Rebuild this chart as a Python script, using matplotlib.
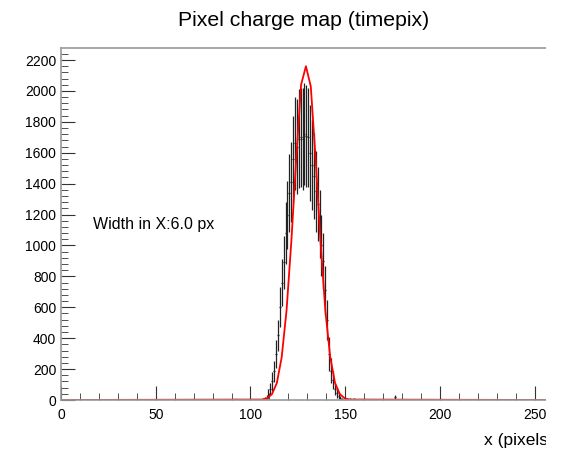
import matplotlib
matplotlib.use("Agg")
import matplotlib.pyplot as plt
from matplotlib.ticker import MultipleLocator
from matplotlib.patches import Rectangle

plt.rcParams['font.family'] = ['Liberation Sans', 'DejaVu Sans']

# bin centres (1 px bins), contents and errors
bin_x = [92.5, 106.5, 107.5, 108.5, 109.5, 110.5, 111.5, 112.5, 113.5, 114.5,
         115.5, 116.5, 117.5, 118.5, 119.5, 120.5, 121.5, 122.5, 123.5, 124.5,
         125.5, 126.5, 127.5, 128.5, 129.5, 130.5, 131.5, 132.5, 133.5, 134.5,
         135.5, 136.5, 137.5, 138.5, 139.5, 140.5, 141.5, 142.5, 143.5, 144.5,
         145.5, 146.5, 147.5, 148.5, 150.5, 152.5, 154.5, 176.5]
bin_y = [4, 5, 10, 15, 40, 70, 120, 185, 300, 420,
         600, 760, 890, 1080, 1200, 1340, 1410, 1560, 1660, 1640,
         1690, 1700, 1690, 1720, 1710, 1700, 1600, 1520, 1450, 1350,
         1270, 1140, 1000, 900, 710, 520, 300, 190, 130, 70,
         45, 25, 13, 8, 5, 5, 8, 20]
bin_err = [4, 5, 10, 15, 30, 40, 60, 70, 90, 100,
           130, 150, 170, 200, 220, 250, 260, 280, 300, 310,
           320, 320, 330, 330, 330, 320, 310, 290, 280, 260,
           240, 220, 200, 180, 160, 130, 110, 80, 60, 40,
           30, 20, 12, 8, 5, 5, 8, 15]

# fitted curve as drawn (polyline)
fit_x = [0, 106.24, 108.8, 111.36, 113.92, 116.48, 119.04, 121.6, 124.16, 126.72,
         129.28, 131.84, 134.4, 136.96, 139.52, 142.08, 144.64, 147.2, 149.76,
         152.32, 256]
fit_y = [0, 3, 11, 38, 110, 276, 578, 1030, 1560, 2040,
         2160, 2030, 1560, 1030, 580, 280, 110, 38, 11,
         3, 0]

fig = plt.figure(figsize=(5.64, 4.49), dpi=100)
ax = fig.add_axes([61 / 564, 1 - 400 / 449, 485 / 564, 352 / 449])

ax.errorbar(bin_x, bin_y, yerr=bin_err, xerr=0.5, fmt='none',
            ecolor='#222222', elinewidth=0.9, capsize=0)
ax.plot(fit_x, fit_y, color='#ff0000', lw=1.3)

ax.set_xlim(0, 256)
ax.set_ylim(0, 2278)
ax.xaxis.set_major_locator(MultipleLocator(50))
ax.xaxis.set_minor_locator(MultipleLocator(10))
ax.yaxis.set_major_locator(MultipleLocator(200))
ax.yaxis.set_minor_locator(MultipleLocator(40))
ax.tick_params(which='both', direction='in', top=False, right=False,
               labelsize=10, color='#333333')
ax.tick_params(which='major', length=10)
ax.tick_params(which='minor', length=5)
ax.tick_params(axis='x', pad=6)
ax.spines['right'].set_visible(False)
for s in ['top', 'left', 'bottom']:
    ax.spines[s].set_color('#999999')
    ax.spines[s].set_linewidth(1.2)

ax.text(0.065, 0.50, 'Width in X:6.0 px', transform=ax.transAxes,
        fontsize=11.5, va='center', ha='left')

fig.text(304 / 564, 1 - 20 / 449, 'Pixel charge map (timepix)',
         ha='center', va='center', fontsize=15.3)
fig.text(484 / 564, 1 - 440 / 449, 'x (pixels)', ha='left', va='center',
         fontsize=12.5)

# canvas is cut off at the right edge of the frame
fig.patches.append(Rectangle((546 / 564, 0), 1, 1, transform=fig.transFigure,
                             facecolor='white', edgecolor='none', zorder=10))

fig.savefig('out.png', dpi=100)
